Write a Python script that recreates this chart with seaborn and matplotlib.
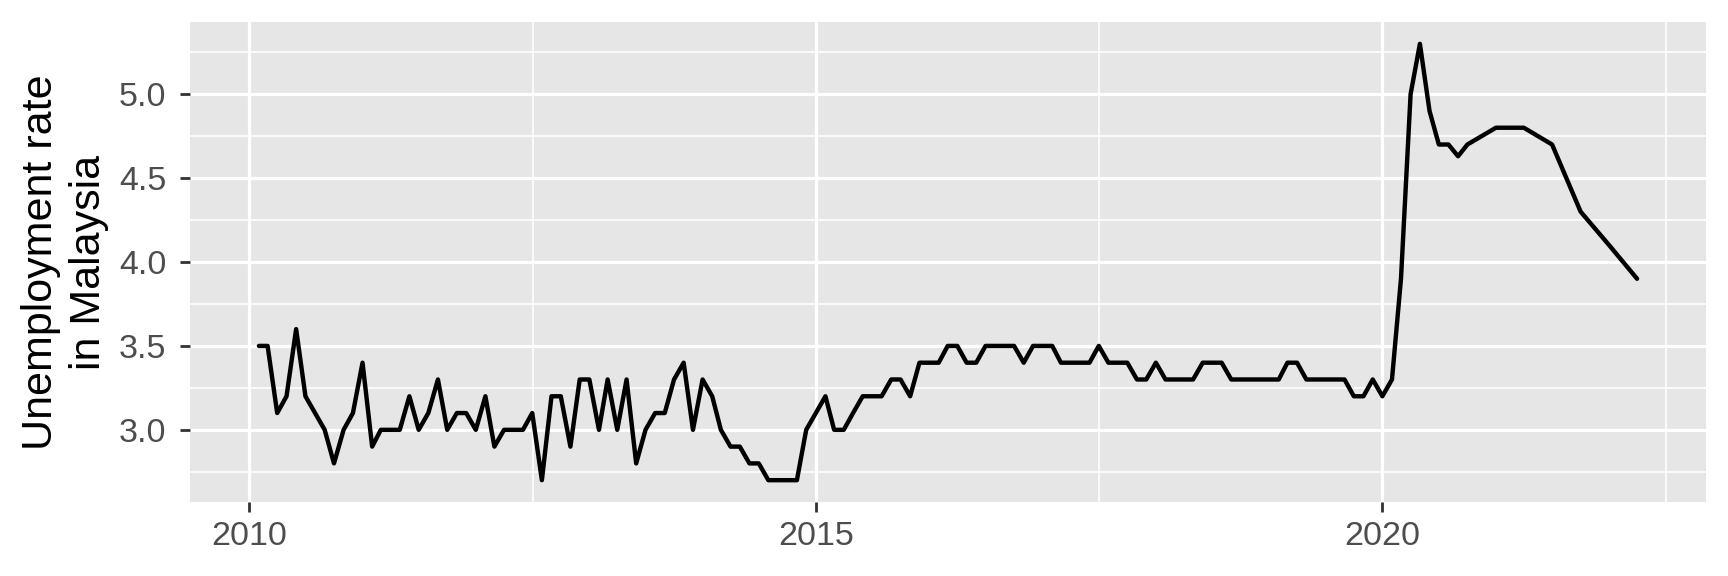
import pandas as pd
import matplotlib.pyplot as plt
import matplotlib.dates as mdates
import matplotlib.ticker as mticker
import seaborn as sns

# monthly unemployment rate (%), Feb 2010 - Oct 2020
rate_2010 = [3.5, 3.5, 3.1, 3.2, 3.6, 3.2, 3.1, 3.0, 2.8, 3.0, 3.1]  # Feb-Dec
rate_2011 = [3.4, 2.9, 3.0, 3.0, 3.0, 3.2, 3.0, 3.1, 3.3, 3.0, 3.1, 3.1]
rate_2012 = [3.0, 3.2, 2.9, 3.0, 3.0, 3.0, 3.1, 2.7, 3.2, 3.2, 2.9, 3.3]
rate_2013 = [3.3, 3.0, 3.3, 3.0, 3.3, 2.8, 3.0, 3.1, 3.1, 3.3, 3.4, 3.0]
rate_2014 = [3.3, 3.2, 3.0, 2.9, 2.9, 2.8, 2.8, 2.7, 2.7, 2.7, 2.7, 3.0]
rate_2015 = [3.1, 3.2, 3.0, 3.0, 3.1, 3.2, 3.2, 3.2, 3.3, 3.3, 3.2, 3.4]
rate_2016 = [3.4, 3.4, 3.5, 3.5, 3.4, 3.4, 3.5, 3.5, 3.5, 3.5, 3.4, 3.5]
rate_2017 = [3.5, 3.5, 3.4, 3.4, 3.4, 3.4, 3.5, 3.4, 3.4, 3.4, 3.3, 3.3]
rate_2018 = [3.4, 3.3, 3.3, 3.3, 3.3, 3.4, 3.4, 3.4, 3.3, 3.3, 3.3, 3.3]
rate_2019 = [3.3, 3.3, 3.4, 3.4, 3.3, 3.3, 3.3, 3.3, 3.3, 3.2, 3.2, 3.3]
rate_2020 = [3.2, 3.3, 3.9, 5.0, 5.3, 4.9, 4.7, 4.7, 4.63, 4.7]  # Jan-Oct

# quarterly points afterwards
late_dates = ["2021-01-01", "2021-04-01", "2021-07-01", "2021-10-01",
              "2022-01-01", "2022-04-01"]
late_rates = [4.8, 4.8, 4.7, 4.3, 4.1, 3.9]

monthly = (rate_2010 + rate_2011 + rate_2012 + rate_2013 + rate_2014 + rate_2015
           + rate_2016 + rate_2017 + rate_2018 + rate_2019 + rate_2020)
monthly_dates = pd.date_range("2010-02-01", periods=len(monthly), freq="MS")

df = pd.DataFrame({
    "date": list(monthly_dates) + list(pd.to_datetime(late_dates)),
    "rate": monthly + late_rates,
})

sns.set_theme(style="darkgrid", rc={
    "axes.facecolor": "#E6E6E6",
    "grid.color": "white",
    "axes.edgecolor": "#E6E6E6",
})
plt.rcParams['font.family'] = ['Liberation Sans', 'DejaVu Sans']

fig = plt.figure(figsize=(12, 4), dpi=144)
ax = fig.add_axes([190 / 1728, 74 / 576, 1516 / 1728, 480 / 576])

sns.lineplot(data=df, x="date", y="rate", color="black", linewidth=2.2, ax=ax)
ax.margins(x=0.05, y=0.05)

# axes styling, ggplot grey look
for s in ax.spines.values():
    s.set_visible(False)
ax.set_axisbelow(True)

ax.xaxis.set_major_locator(mdates.YearLocator(5))
ax.xaxis.set_major_formatter(mdates.DateFormatter("%Y"))
ax.xaxis.set_minor_locator(mticker.FixedLocator(
    mdates.date2num(pd.to_datetime(["2012-07-02", "2017-07-02", "2022-07-02"]))))
ax.yaxis.set_major_locator(mticker.MultipleLocator(0.5))
ax.yaxis.set_minor_locator(mticker.MultipleLocator(0.25))
ax.yaxis.set_major_formatter(mticker.FormatStrFormatter("%.1f"))

ax.grid(which="major", color="white", linewidth=1.6)
ax.grid(which="minor", color="white", linewidth=0.8)

ax.tick_params(which="major", left=True, bottom=True, length=5.2, width=1.4,
               color="#333333", labelcolor="#4D4D4D", labelsize=17)
ax.tick_params(axis="x", which="major", pad=4.5)
ax.tick_params(axis="y", which="major", pad=6.5)
ax.tick_params(which="minor", length=0)

ax.set_xlabel("")
ax.set_ylabel("Unemployment rate\nin Malaysia", fontsize=21.5, color="black",
              linespacing=1.25)
ax.yaxis.set_label_coords(-0.0534, 0.5)

fig.savefig("out.png", dpi=144)
